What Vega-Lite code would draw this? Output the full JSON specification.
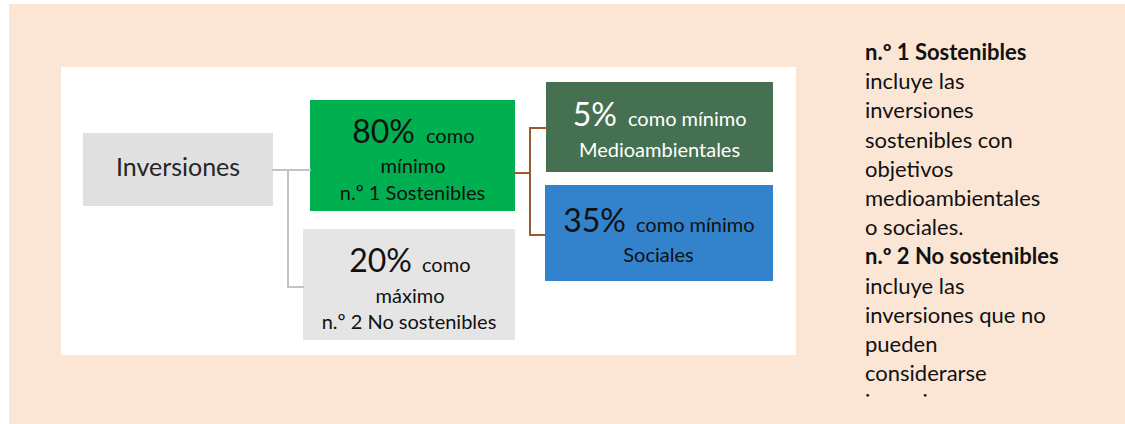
{
  "$schema": "https://vega.github.io/schema/vega-lite/v6.json",
  "width": 1125,
  "height": 424,
  "padding": 0,
  "autosize": {"type": "none"},
  "background": "white",
  "config": {"view": {"stroke": null}},
  "datasets": {
    "cajas": [
      {"nodo": "fondo", "x": 9, "x2": 1125, "y": 4, "y2": 424},
      {"nodo": "panel", "x": 61, "x2": 796, "y": 67, "y2": 355},
      {"nodo": "Inversiones", "x": 83, "x2": 273, "y": 133, "y2": 206},
      {"nodo": "Sostenibles", "x": 310, "x2": 515, "y": 100, "y2": 211},
      {"nodo": "No sostenibles", "x": 303, "x2": 515, "y": 229, "y2": 340},
      {"nodo": "Medioambientales", "x": 546, "x2": 773, "y": 82, "y2": 172},
      {"nodo": "Sociales", "x": 545, "x2": 773, "y": 185, "y2": 281}
    ],
    "conectores": [
      {"tramo": "gris", "x": 273, "y": 170, "x2": 310, "y2": 170},
      {"tramo": "gris", "x": 288, "y": 170, "x2": 288, "y2": 287},
      {"tramo": "gris", "x": 288, "y": 287, "x2": 303, "y2": 287},
      {"tramo": "marron", "x": 515, "y": 173, "x2": 530, "y2": 173},
      {"tramo": "marron", "x": 530, "y": 128, "x2": 530, "y2": 235},
      {"tramo": "marron", "x": 530, "y": 128, "x2": 546, "y2": 128},
      {"tramo": "marron", "x": 530, "y": 235, "x2": 545, "y2": 235}
    ],
    "textos": [
      {"texto": "Inversiones", "x": 178, "y": 176, "estilo": "titulo", "caja": "Inversiones"},
      {"texto": "80%", "x": 415, "y": 143, "estilo": "cifra", "caja": "Sostenibles"},
      {"texto": "como", "x": 426, "y": 143, "estilo": "resto", "caja": "Sostenibles"},
      {"texto": "mínimo", "x": 413, "y": 173, "estilo": "linea", "caja": "Sostenibles"},
      {"texto": "n.º 1 Sostenibles", "x": 412.5, "y": 200, "estilo": "linea", "caja": "Sostenibles"},
      {"texto": "20%", "x": 412, "y": 272, "estilo": "cifra", "caja": "No sostenibles"},
      {"texto": "como", "x": 422, "y": 272, "estilo": "resto", "caja": "No sostenibles"},
      {"texto": "máximo", "x": 410, "y": 303, "estilo": "linea", "caja": "No sostenibles"},
      {"texto": "n.º 2 No sostenibles", "x": 409, "y": 329, "estilo": "linea", "caja": "No sostenibles"},
      {"texto": "5%", "x": 617, "y": 126, "estilo": "cifra", "caja": "Medioambientales"},
      {"texto": "como mínimo", "x": 628, "y": 126, "estilo": "resto", "caja": "Medioambientales"},
      {"texto": "Medioambientales", "x": 659.5, "y": 157, "estilo": "linea", "caja": "Medioambientales"},
      {"texto": "35%", "x": 626, "y": 232, "estilo": "cifra", "caja": "Sociales"},
      {"texto": "como mínimo", "x": 636, "y": 232, "estilo": "resto", "caja": "Sociales"},
      {"texto": "Sociales", "x": 658.5, "y": 262, "estilo": "linea", "caja": "Sociales"},
      {"texto": "n.º 1 Sostenibles", "x": 865, "y": 60, "estilo": "notaNegrita", "caja": "nota"},
      {"texto": "incluye las", "x": 865, "y": 89.2, "estilo": "nota", "caja": "nota"},
      {"texto": "inversiones", "x": 865, "y": 118.4, "estilo": "nota", "caja": "nota"},
      {"texto": "sostenibles con", "x": 865, "y": 147.6, "estilo": "nota", "caja": "nota"},
      {"texto": "objetivos", "x": 865, "y": 176.8, "estilo": "nota", "caja": "nota"},
      {"texto": "medioambientales", "x": 865, "y": 206, "estilo": "nota", "caja": "nota"},
      {"texto": "o sociales.", "x": 865, "y": 235.2, "estilo": "nota", "caja": "nota"},
      {"texto": "n.º 2 No sostenibles", "x": 865, "y": 264.4, "estilo": "notaNegrita", "caja": "nota"},
      {"texto": "incluye las", "x": 865, "y": 293.6, "estilo": "nota", "caja": "nota"},
      {"texto": "inversiones que no", "x": 865, "y": 322.8, "estilo": "nota", "caja": "nota"},
      {"texto": "pueden", "x": 865, "y": 352, "estilo": "nota", "caja": "nota"},
      {"texto": "considerarse", "x": 865, "y": 381.2, "estilo": "nota", "caja": "nota"},
      {"texto": "inversiones", "x": 865, "y": 410.4, "estilo": "nota", "caja": "nota"}
    ],
    "corte": [
      {"x": 850, "x2": 1125, "y": 399, "y2": 424}
    ]
  },
  "encoding": {
    "x": {"field": "x", "type": "quantitative", "scale": {"domain": [0, 1125], "nice": false, "zero": false}, "axis": null},
    "y": {"field": "y", "type": "quantitative", "scale": {"domain": [0, 424], "nice": false, "zero": false, "reverse": true}, "axis": null}
  },
  "layer": [
    {
      "data": {"name": "cajas"},
      "mark": {"type": "rect"},
      "encoding": {
        "x2": {"field": "x2"},
        "y2": {"field": "y2"},
        "fill": {
          "field": "nodo",
          "type": "nominal",
          "legend": null,
          "scale": {
            "domain": ["fondo", "panel", "Inversiones", "Sostenibles", "No sostenibles", "Medioambientales", "Sociales"],
            "range": ["#FBE6D6", "#FFFFFF", "#E0E0E0", "#00B050", "#E5E5E5", "#457052", "#3382CC"]
          }
        }
      }
    },
    {
      "data": {"name": "conectores"},
      "mark": {"type": "rule", "strokeWidth": 2, "strokeCap": "square"},
      "encoding": {
        "x2": {"field": "x2"},
        "y2": {"field": "y2"},
        "color": {
          "condition": {"test": "datum.tramo === 'gris'", "value": "#C3C3C3"},
          "value": "#9A5B30"
        }
      }
    },
    {
      "data": {"name": "textos"},
      "transform": [{"filter": "datum.estilo === 'titulo'"}],
      "mark": {"type": "text", "font": "Lato", "fontSize": 25, "align": "center", "baseline": "alphabetic"},
      "encoding": {"text": {"field": "texto"}, "color": {"value": "#262626"}}
    },
    {
      "data": {"name": "textos"},
      "transform": [{"filter": "datum.estilo === 'cifra'"}],
      "mark": {"type": "text", "font": "Lato", "fontSize": 32, "align": "right", "baseline": "alphabetic"},
      "encoding": {
        "text": {"field": "texto"},
        "color": {"condition": {"test": "datum.caja === 'Medioambientales'", "value": "#FFFFFF"}, "value": "#111111"}
      }
    },
    {
      "data": {"name": "textos"},
      "transform": [{"filter": "datum.estilo === 'resto'"}],
      "mark": {"type": "text", "font": "Lato", "fontSize": 20, "align": "left", "baseline": "alphabetic"},
      "encoding": {
        "text": {"field": "texto"},
        "color": {"condition": {"test": "datum.caja === 'Medioambientales'", "value": "#FFFFFF"}, "value": "#111111"}
      }
    },
    {
      "data": {"name": "textos"},
      "transform": [{"filter": "datum.estilo === 'linea'"}],
      "mark": {"type": "text", "font": "Lato", "fontSize": 20, "align": "center", "baseline": "alphabetic"},
      "encoding": {
        "text": {"field": "texto"},
        "color": {"condition": {"test": "datum.caja === 'Medioambientales'", "value": "#FFFFFF"}, "value": "#111111"}
      }
    },
    {
      "data": {"name": "textos"},
      "transform": [{"filter": "datum.estilo === 'nota'"}],
      "mark": {"type": "text", "font": "Lato", "fontSize": 22, "align": "left", "baseline": "alphabetic"},
      "encoding": {"text": {"field": "texto"}, "color": {"value": "#111111"}}
    },
    {
      "data": {"name": "textos"},
      "transform": [{"filter": "datum.estilo === 'notaNegrita'"}],
      "mark": {"type": "text", "font": "Lato", "fontSize": 22, "fontWeight": "bold", "align": "left", "baseline": "alphabetic"},
      "encoding": {"text": {"field": "texto"}, "color": {"value": "#111111"}}
    },
    {
      "data": {"name": "corte"},
      "mark": {"type": "rect"},
      "encoding": {
        "x2": {"field": "x2"},
        "y2": {"field": "y2"},
        "fill": {"value": "#FBE6D6"}
      }
    }
  ]
}
